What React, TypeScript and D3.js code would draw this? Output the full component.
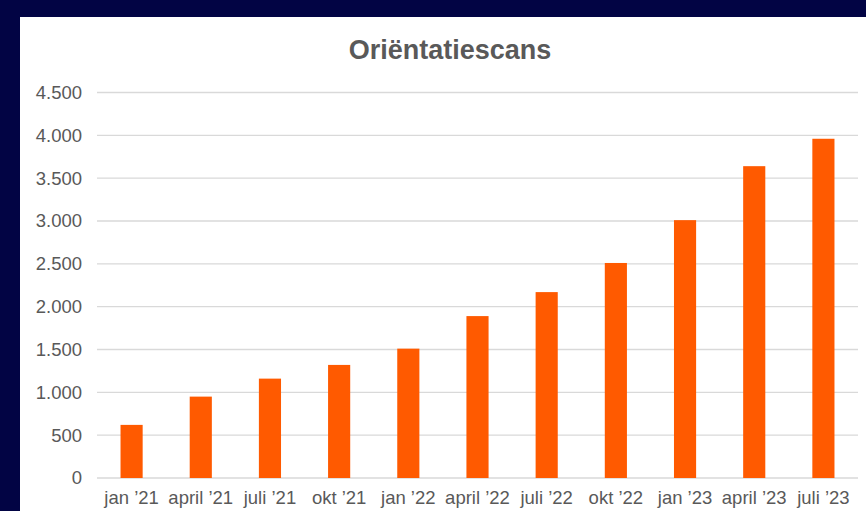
import * as d3 from "d3";
import { useEffect, useRef } from "react";

const categories = [
  "jan ’21", "april ’21", "juli ’21", "okt ’21", "jan ’22", "april ’22",
  "juli ’22", "okt ’22", "jan ’23", "april ’23", "juli ’23",
];
const scans = [620, 950, 1160, 1320, 1510, 1890, 2170, 2510, 3010, 3640, 3960];
const yTicks = [0, 500, 1000, 1500, 2000, 2500, 3000, 3500, 4000, 4500];

const fmt = (v: number) => d3.format(",")(v).replace(/,/g, ".");

export default function App() {
  const svgRef = useRef<SVGSVGElement | null>(null);

  useEffect(() => {
    const width = 866;
    const height = 511;
    const svg = d3.select(svgRef.current);
    svg.selectAll("*").remove();

    svg.append("rect").attr("width", width).attr("height", height).attr("fill", "#020444");
    svg.append("rect").attr("x", 20).attr("y", 17).attr("width", width - 20).attr("height", height - 17).attr("fill", "#ffffff");

    const left = 97;
    const right = 858;
    const top = 92.5;
    const bottom = 478;

    const x = d3.scaleBand<string>().domain(categories).range([left, right]).paddingInner(0.68).paddingOuter(0.34);
    const y = d3.scaleLinear().domain([0, 4500]).range([bottom, top]);

    svg
      .append("text")
      .attr("x", 450)
      .attr("y", 59)
      .attr("text-anchor", "middle")
      .attr("fill", "#595959")
      .style("font", "bold 27px 'Liberation Sans', Arial, sans-serif")
      .text("Oriëntatiescans");

    svg
      .selectAll("line.grid")
      .data(yTicks)
      .join("line")
      .attr("class", "grid")
      .attr("x1", left)
      .attr("x2", right)
      .attr("y1", (d) => y(d))
      .attr("y2", (d) => y(d))
      .attr("stroke", "#d9d9d9")
      .attr("stroke-width", 1.3);

    svg
      .selectAll("text.ytick")
      .data(yTicks)
      .join("text")
      .attr("class", "ytick")
      .attr("x", 82)
      .attr("y", (d) => y(d))
      .attr("dy", "0.35em")
      .attr("text-anchor", "end")
      .attr("fill", "#595959")
      .style("font", "18.5px 'Liberation Sans', Arial, sans-serif")
      .text((d) => fmt(d));

    svg
      .selectAll("rect.bar")
      .data(scans)
      .join("rect")
      .attr("class", "bar")
      .attr("x", (_, i) => x(categories[i])!)
      .attr("width", x.bandwidth())
      .attr("y", (d) => y(d))
      .attr("height", (d) => bottom - y(d))
      .attr("fill", "#ff5a00");

    svg
      .selectAll("text.xtick")
      .data(categories)
      .join("text")
      .attr("class", "xtick")
      .attr("x", (d) => x(d)! + x.bandwidth() / 2)
      .attr("y", 498)
      .attr("dy", "0.35em")
      .attr("text-anchor", "middle")
      .attr("fill", "#595959")
      .style("font", "18.5px 'Liberation Sans', Arial, sans-serif")
      .text((d) => d);
  }, []);

  return (
    <svg
      ref={svgRef}
      width={866}
      height={511}
      style={{ position: "absolute", left: 0, top: 0 }}
    />
  );
}
